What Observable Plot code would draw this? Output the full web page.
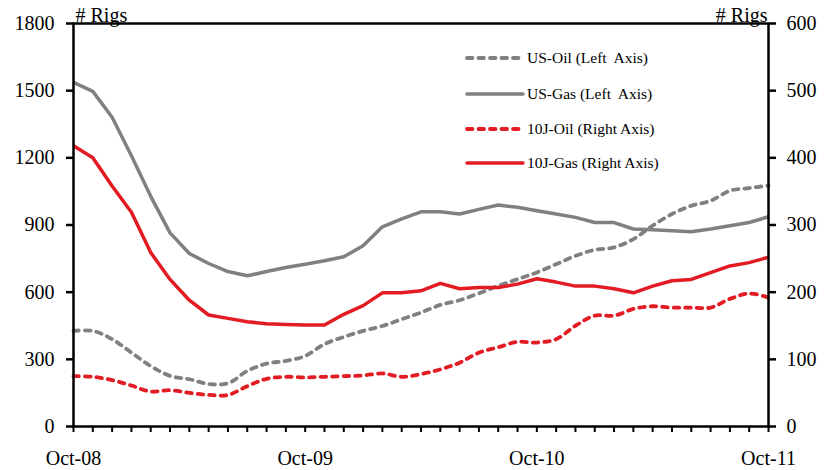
<!DOCTYPE html>
<html>
<head>
<meta charset="utf-8">
<script src="https://cdn.jsdelivr.net/npm/d3@7"></script>
<script src="https://cdn.jsdelivr.net/npm/@observablehq/plot@0.6"></script>
<style>
  html, body { margin: 0; padding: 0; background: #fff; }
  #wrap { position: relative; width: 824px; height: 470px; }
  #legend { position: absolute; left: 0; top: 0; font-family: "Liberation Serif", "Times New Roman", serif; font-size: 15.5px; color: #000; }
  .item { position: absolute; display: flex; align-items: center; white-space: pre; }
  .item svg { display: block; }
  svg text { font-family: "Liberation Serif", "Times New Roman", serif; }
</style>
</head>
<body>
<div id="wrap"><div id="legend"></div></div>
<script>
// Monthly, Oct-08 .. Oct-11 (37 months)
const months = d3.utcMonths(new Date(Date.UTC(2008, 9, 1)), new Date(Date.UTC(2011, 10, 1)));
const xLabelMonths = [0, 12, 24, 36];

// Left axis series (# rigs)
const usOil = [427,427,390,330,270,226,211,190,193,248,281,293,315,368,400,427,449,479,509,543,564,595,628,658,688,725,762,789,800,837,897,949,986,1008,1053,1065,1076];
const usGas = [1537,1497,1381,1209,1028,865,773,728,692,673,692,710,725,740,758,807,892,927,959,959,949,970,989,979,964,949,934,911,911,882,879,874,870,882,897,911,937];
// Right axis series (# rigs)
const jOil = [75,74,69,61,52,54,50,47,47,60,71,74,73,74,75,76,79,74,78,85,95,110,118,126,125,130,150,165,165,175,179,177,177,177,190,198,192];
const jGas = [418,400,358,319,259,219,188,166,161,156,153,152,151,151,167,180,199,199,202,213,205,207,207,212,220,215,209,209,205,199,209,217,219,229,239,244,252];

const leftTicks = [0, 300, 600, 900, 1200, 1500, 1800];
const rightTicks = [0, 100, 200, 300, 400, 500, 600];
const rightFactor = 3;

const GRAY = "#808080";
const RED = "#E31B23";
const DASH = "5.5,6";
const FONT = "'Liberation Serif', 'Times New Roman', serif";

const series = [
  {name: "US-Oil (Left  Axis)", values: usOil, factor: 1, color: GRAY, dashed: true},
  {name: "US-Gas (Left  Axis)", values: usGas, factor: 1, color: GRAY, dashed: false},
  {name: "10J-Oil (Right Axis)", values: jOil, factor: rightFactor, color: RED, dashed: true},
  {name: "10J-Gas (Right Axis)", values: jGas, factor: rightFactor, color: RED, dashed: false}
];

const fmt = d3.utcFormat("%b-%y");

const lineMarks = series.map(s => Plot.lineY(s.values, {
  x: (d, i) => i,
  y: d => d * s.factor,
  stroke: s.color,
  strokeWidth: s.dashed ? 3.8 : 3.5,
  strokeDasharray: s.dashed ? DASH : null,
  strokeLinecap: s.dashed ? "round" : "butt",
  strokeLinejoin: "round",
  curve: s.dashed ? "catmull-rom" : "linear"
}));

const chart = Plot.plot({
  width: 824,
  height: 470,
  marginLeft: 73,
  marginRight: 56,
  marginTop: 23,
  marginBottom: 44,
  style: {fontFamily: FONT, fontSize: "20px", color: "#000", background: "#fff", overflow: "visible"},
  x: {type: "linear", domain: [0, months.length - 1], axis: null},
  y: {domain: [0, 1800], axis: null},
  marks: [
    ...lineMarks,
    Plot.frame({stroke: "#000", strokeWidth: 2.5}),
    Plot.axisY(leftTicks, {anchor: "left", tickSize: 7, tickPadding: 12, strokeWidth: 2.5, fontSize: 20, fontFamily: FONT, tickFormat: d => String(d)}),
    Plot.axisY(rightTicks.map(v => v * rightFactor), {anchor: "right", tickSize: 7, tickPadding: 11, strokeWidth: 2.5, fontSize: 20, fontFamily: FONT, tickFormat: d => String(d / rightFactor)}),
    Plot.axisX(d3.range(months.length), {anchor: "bottom", tickSize: 6, strokeWidth: 2, tickFormat: () => ""}),
    Plot.axisX(xLabelMonths, {anchor: "bottom", tickSize: 0, tickPadding: 24, fontSize: 20, fontFamily: FONT, tickFormat: i => fmt(months[i])}),
    Plot.text(["# Rigs"], {frameAnchor: "top-left", textAnchor: "start", lineAnchor: "bottom", dx: 2, dy: -2, fontSize: 20, fontFamily: FONT}),
    Plot.text(["# Rigs"], {frameAnchor: "top-right", textAnchor: "end", lineAnchor: "bottom", dx: -1, dy: -2, fontSize: 20, fontFamily: FONT})
  ]
});

const wrap = document.getElementById("wrap");
wrap.insertBefore(chart, wrap.firstChild);

// Legend (HTML overlay)
const legend = document.getElementById("legend");
const rowY = [58, 94, 129, 163];
series.forEach((s, k) => {
  const div = document.createElement("div");
  div.className = "item";
  div.style.left = "465px";
  div.style.top = (rowY[k] - 10) + "px";
  div.style.height = "20px";
  const sw = d3.create("svg").attr("width", 62).attr("height", 20);
  sw.append("line").attr("x1", 2).attr("x2", 58).attr("y1", 10).attr("y2", 10)
    .attr("stroke", s.color).attr("stroke-width", s.dashed ? 3.8 : 3.5)
    .attr("stroke-linecap", "round")
    .attr("stroke-dasharray", s.dashed ? DASH : null);
  div.appendChild(sw.node());
  const t = document.createElement("span");
  t.textContent = s.name;
  div.appendChild(t);
  legend.appendChild(div);
});
</script>
</body>
</html>
